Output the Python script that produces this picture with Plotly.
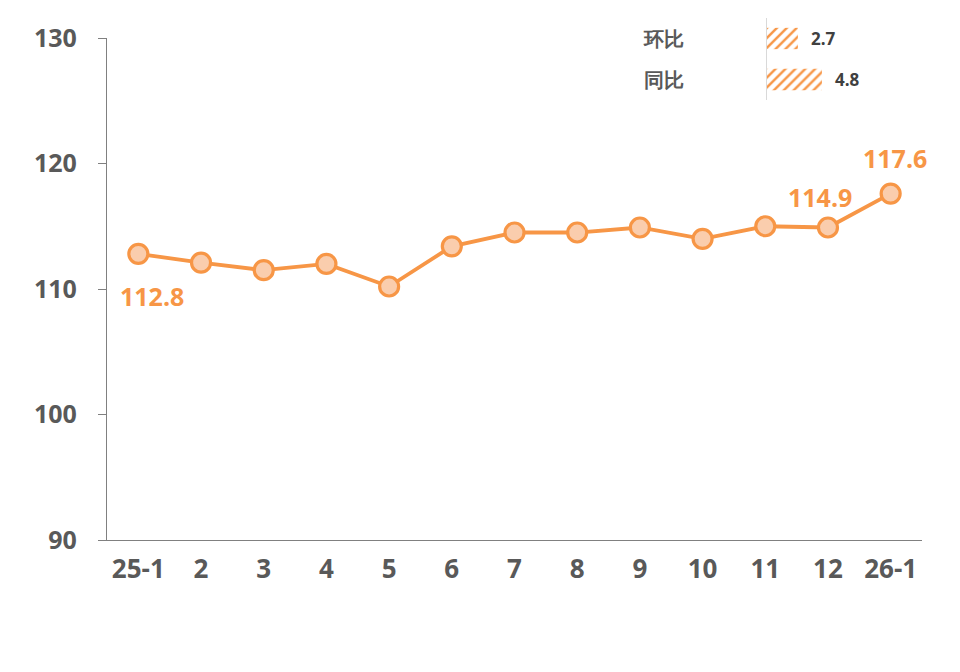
import plotly.graph_objects as go

# 指数走势 (25-1 ~ 26-1)
months = ["25-1", "2", "3", "4", "5", "6", "7", "8", "9", "10", "11", "12", "26-1"]
index_values = [112.8, 112.1, 111.5, 112.0, 110.2, 113.4, 114.5, 114.5, 114.9, 114.0, 115.0, 114.9, 117.6]

# 小图: 环比 / 同比
change_names = ["环比", "同比"]
change_values = [2.7, 4.8]

orange = "#F79646"
peach = "#FACDAD"
grey = "#595959"
font_name = "Open Sans"

fig = go.Figure()

fig.add_trace(go.Scatter(
    x=months, y=index_values, mode="lines+markers",
    line=dict(color=orange, width=3.8),
    marker=dict(size=19, color=peach, line=dict(color=orange, width=3.2)),
    cliponaxis=False, showlegend=False, hoverinfo="skip"))

# 标注: 首月在下方, 末两月在上方 (用序号定位, "12" 会被当成数字)
label_shift = {0: (14, -42), 11: (-8, 31), 12: (4, 36)}
for i, (dx, dy) in label_shift.items():
    fig.add_annotation(
        x=i, y=index_values[i], text=f"{index_values[i]:.1f}",
        showarrow=False, xshift=dx, yshift=dy,
        font=dict(family=font_name, size=25, color=orange, weight="bold"))

fig.add_trace(go.Bar(
    x=change_values, y=change_names, orientation="h", width=0.52,
    xaxis="x2", yaxis="y2",
    marker=dict(color="white", line=dict(width=0),
                pattern=dict(shape="/", fillmode="replace", fgcolor=orange, fgopacity=1,
                             bgcolor="white", size=7, solidity=0.35)),
    showlegend=False, hoverinfo="skip"))

for name, val in zip(change_names, change_values):
    fig.add_annotation(
        x=val, y=name, xref="x2", yref="y2", text=f"{val}", showarrow=False,
        xanchor="left", xshift=11,
        font=dict(family=font_name, size=17, color="#404040", weight="bold"))

# 页面有 8px 的默认边距, 这里把边距相应减掉
fig.update_layout(
    width=960, height=672,
    margin=dict(l=99, r=46, t=10, b=140),
    paper_bgcolor="white", plot_bgcolor="white",
    font=dict(family=font_name, color=grey),
    xaxis=dict(
        type="category", range=[-0.5, 12.5], showgrid=False, automargin=False,
        showline=True, linecolor="#808080", linewidth=1.3,
        ticks="", ticklabelstandoff=6,
        tickfont=dict(size=26, color=grey, weight="bold")),
    yaxis=dict(
        domain=[0, 502 / 522], range=[90, 130], dtick=10, showgrid=False,
        automargin=False, zeroline=False, showline=True, linecolor="#808080",
        linewidth=1.3, ticks="outside", ticklen=8, tickcolor="#808080", tickwidth=1.3,
        ticklabelstandoff=16,
        tickfont=dict(size=25, color=grey, weight="bold")),
    xaxis2=dict(
        domain=[(767 - 107) / 815, (910 - 107) / 815], range=[0, 12.5],
        anchor="y2", showgrid=False, zeroline=False, showline=False,
        automargin=False, showticklabels=False, ticks=""),
    yaxis2=dict(
        domain=[440 / 522, 1], range=[1.5, -0.5], type="category",
        anchor="x2", showgrid=False, showline=True, linecolor="#d9d9d9",
        automargin=False, linewidth=1, ticks="", ticklabelstandoff=78,
        tickfont=dict(size=20, color=grey, weight="bold")),
)

fig.write_html("out.html")
